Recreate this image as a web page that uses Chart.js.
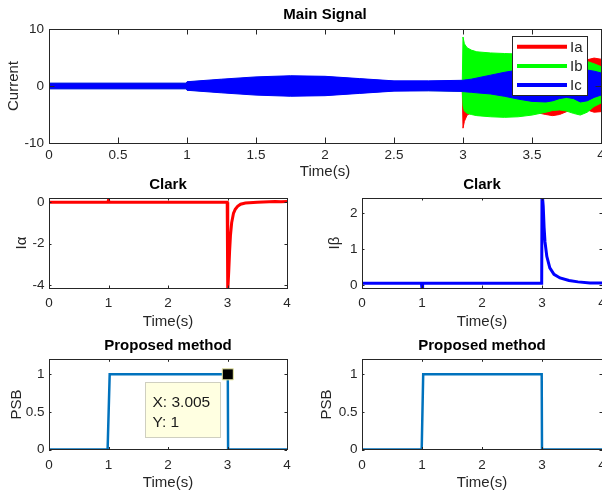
<!DOCTYPE html>
<html>
<head>
<meta charset="utf-8">
<script src="https://cdn.jsdelivr.net/npm/chart.js@4.4.0/dist/chart.umd.min.js"></script>
<style>
html, body { margin: 0; padding: 0; background: #fff; overflow: hidden; }
#fig { position: relative; width: 602px; height: 492px; }
</style>
</head>
<body>
<div id="fig"></div>
<script>
// ---- values ----
var seriesNames = ['Ia', 'Ib', 'Ic']
var seriesColors = ['#ff0000', '#00ff00', '#0000ff']

// envelope (upper / lower edge) of each dense three-phase current
var mainTime = [0, 0.995, 1.0, 1.25, 1.5, 1.75, 2.0, 2.25, 2.5, 2.75, 2.995, 3.0, 3.01, 3.03, 3.06, 3.1, 3.2, 3.3, 3.4, 3.5, 3.6, 3.65, 3.7, 3.75, 3.8, 3.85, 3.9, 3.95, 4.0]
var iaUpper = [0.4, 0.4, 0.65, 1.0, 1.4, 1.6, 1.5, 1.1, 0.75, 0.75, 0.85, 1.0, 1.1, 1.2, 1.3, 1.5, 2.0, 2.5, 2.8, 3.0, 3.2, 3.3, 3.4, 3.6, 3.8, 4.2, 4.6, 4.9, 4.7]
var iaLower = [-0.4, -0.4, -0.65, -1.0, -1.4, -1.6, -1.5, -1.1, -0.75, -0.75, -0.85, -7.4, -6.2, -5.1, -4.7, -4.5, -4.3, -4.1, -4.2, -4.5, -5.0, -5.2, -5.0, -4.5, -4.0, -3.9, -4.2, -4.6, -4.5]
var ibUpper = [0.45, 0.45, 0.7, 1.1, 1.5, 1.7, 1.6, 1.2, 0.8, 0.8, 0.9, 8.6, 7.4, 6.7, 6.3, 6.0, 5.8, 5.7, 5.6, 5.4, 5.2, 5.0, 4.9, 4.8, 4.6, 4.4, 4.3, 3.9, 3.4]
var ibLower = [-0.45, -0.45, -0.7, -1.1, -1.5, -1.7, -1.6, -1.2, -0.8, -0.8, -0.9, -3.5, -4.4, -4.8, -5.0, -5.2, -5.4, -5.5, -5.4, -5.1, -4.6, -4.3, -4.2, -4.4, -4.8, -5.1, -4.6, -3.6, -3.0]
var icUpper = [0.5, 0.5, 0.75, 1.2, 1.6, 1.8, 1.7, 1.3, 0.9, 0.9, 1.0, 1.0, 1.05, 1.1, 1.2, 1.4, 1.9, 2.4, 2.8, 3.1, 3.3, 3.3, 3.3, 3.2, 3.1, 3.0, 2.8, 2.6, 2.3]
var icLower = [-0.5, -0.5, -0.75, -1.2, -1.6, -1.8, -1.7, -1.3, -0.9, -0.85, -0.95, -1.0, -1.0, -1.05, -1.1, -1.2, -1.4, -1.8, -2.3, -2.7, -2.8, -2.6, -2.2, -2.0, -2.2, -2.8, -2.6, -2.0, -1.6]

var clarkAlphaTime = [0, 0.99, 1.0, 1.01, 2.995, 3.0, 3.008, 3.02, 3.035, 3.05, 3.07, 3.1, 3.13, 3.17, 3.22, 3.3, 3.5, 3.7, 3.8, 3.9, 4.0]
var clarkAlpha = [0, 0, 0.1, 0, 0, 0, -4.3, -3.4, -2.4, -1.6, -1.0, -0.55, -0.35, -0.2, -0.1, -0.04, 0, 0.02, 0.03, 0.02, 0.03]
var clarkBetaTime = [0, 0.99, 1.0, 1.01, 2.995, 3.0, 3.02, 3.035, 3.05, 3.08, 3.13, 3.2, 3.3, 3.45, 3.6, 3.8, 4.0]
var clarkBeta = [0.05, 0.05, -0.08, 0.05, 0.05, 2.6, 2.2, 1.6, 1.2, 0.8, 0.48, 0.3, 0.2, 0.13, 0.09, 0.06, 0.06]

var psbTimeLeft = [0, 0.985, 1.02, 3.005, 3.01, 4]
var psbLeft = [0, 0, 1, 1, 0, 0]
var psbTimeRight = [0, 0.995, 1.02, 2.995, 3.0, 4]
var psbRight = [0, 0, 1, 1, 0, 0]

var tipX = [3.005]
var tipY = [1]

// tick labels
var mainXTicks = [0, 0.5, 1, 1.5, 2, 2.5, 3, 3.5, 4]
var mainYTicks = [-10, 0, 10]
var timeTicks = [0, 1, 2, 3, 4]
var alphaTicks = [-4, -2, 0]
var betaTicks = [0, 1, 2]
var psbTicks = [0, 0.5, 1]

var FONT = "'Liberation Sans', Arial, sans-serif"
var AXIS = '#262626'

function points(xs, ys) {
	return xs.map(function (x, i) { return { x: x, y: ys[i] } })
}

function addCanvas(left, top, width, height) {
	const canvas = document.createElement('canvas')
	canvas.width = width
	canvas.height = height
	canvas.style.position = 'absolute'
	canvas.style.left = left + 'px'
	canvas.style.top = top + 'px'
	document.getElementById('fig').appendChild(canvas)
	return canvas.getContext('2d')
}

// MATLAB style box with inward ticks on all four sides
var matlabBox = {
	id: 'matlabBox',
	afterDatasetsDraw: function (chart, args, opts) {
		const ctx = chart.ctx
		const a = chart.chartArea
		const sx = chart.scales.x, sy = chart.scales.y
		const len = opts.tickLength || 3
		ctx.save()
		ctx.strokeStyle = AXIS
		ctx.lineWidth = 1
		ctx.beginPath()
		sx.ticks.forEach(function (t) {
			const px = Math.round(sx.getPixelForValue(t.value)) + 0.5
			ctx.moveTo(px, a.bottom); ctx.lineTo(px, a.bottom - len)
			ctx.moveTo(px, a.top); ctx.lineTo(px, a.top + len)
		})
		sy.ticks.forEach(function (t) {
			const py = Math.round(sy.getPixelForValue(t.value)) + 0.5
			ctx.moveTo(a.left, py); ctx.lineTo(a.left + len, py)
			ctx.moveTo(a.right, py); ctx.lineTo(a.right - len, py)
		})
		ctx.stroke()
		ctx.strokeRect(Math.round(a.left) + 0.5, Math.round(a.top) + 0.5, Math.round(a.right - a.left), Math.round(a.bottom - a.top))
		ctx.restore()
	}
}
Chart.register(matlabBox)

function axesOptions(cfg) {
	return {
		responsive: false,
		animation: false,
		events: [],
		layout: { padding: { left: 0, top: 0, right: cfg.padRight, bottom: 0 } },
		plugins: {
			legend: { display: false },
			tooltip: { enabled: false },
			title: {
				display: true, text: cfg.title, fullSize: false, color: '#000',
				font: { family: FONT, size: 15, weight: 'bold' },
				padding: { top: cfg.titleTop, bottom: cfg.titleBottom }
			},
			matlabBox: { tickLength: cfg.tickLength }
		},
		scales: {
			x: {
				type: 'linear', min: cfg.xTicks[0], max: cfg.xTicks[cfg.xTicks.length - 1],
				grid: { display: false, drawTicks: false }, border: { display: false },
				ticks: {
					color: AXIS, font: { family: FONT, size: 13.5 }, padding: cfg.xTickPad,
					maxRotation: 0, autoSkip: false, callback: function (v) { return String(v) }
				},
				title: { display: true, text: 'Time(s)', color: AXIS, font: { family: FONT, size: 15 }, padding: { top: 0, bottom: cfg.xTitlePad } },
				afterBuildTicks: function (s) { s.ticks = cfg.xTicks.map(function (v) { return { value: v } }) },
				afterFit: function (s) { s.height = cfg.xHeight; s.paddingLeft = 0; s.paddingRight = 0 }
			},
			y: {
				type: 'linear', min: cfg.yMin, max: cfg.yMax,
				grid: { display: false, drawTicks: false }, border: { display: false },
				ticks: {
					color: AXIS, font: { family: FONT, size: 13.5 }, padding: cfg.yTickPad,
					autoSkip: false, callback: function (v) { return String(v) }
				},
				title: { display: true, text: cfg.yTitle, color: AXIS, font: { family: FONT, size: 15 }, padding: { top: cfg.yTitlePad, bottom: 0 } },
				afterBuildTicks: function (s) { s.ticks = cfg.yTicks.map(function (v) { return { value: v } }) },
				afterFit: function (s) { s.width = cfg.yWidth; s.paddingTop = 0; s.paddingBottom = 0 }
			}
		}
	}
}

function lineSet(xs, ys, color, width) {
	return {
		data: points(xs, ys), borderColor: color, backgroundColor: color,
		borderWidth: width, pointRadius: 0, tension: 0, fill: false
	}
}

// ---- Main Signal ----
var mainLegend = {
	id: 'mainLegend',
	afterDraw: function (chart) {
		const ctx = chart.ctx
		const a = chart.chartArea
		const bx = a.right - 89, by = a.top + 7, bw = 75, bh = 59
		ctx.save()
		ctx.fillStyle = '#fff'
		ctx.fillRect(bx, by, bw, bh)
		ctx.strokeStyle = AXIS
		ctx.lineWidth = 1
		ctx.strokeRect(Math.round(bx) + 0.5, Math.round(by) + 0.5, bw, bh)
		ctx.font = '15px ' + FONT
		ctx.textBaseline = 'middle'
		seriesNames.forEach(function (name, i) {
			const y = by + 10.7 + i * 19.2
			ctx.strokeStyle = seriesColors[i]
			ctx.lineWidth = 4
			ctx.beginPath()
			ctx.moveTo(bx + 5, y)
			ctx.lineTo(bx + 55, y)
			ctx.stroke()
			ctx.fillStyle = AXIS
			ctx.fillText(name, bx + 58, y + 1)
		})
		ctx.restore()
	}
}

var envelopes = [[iaUpper, iaLower], [ibUpper, ibLower], [icUpper, icLower]]
var mainSets = []
envelopes.forEach(function (env, i) {
	var up = lineSet(mainTime, env[0], seriesColors[i], 1)
	var low = lineSet(mainTime, env[1], seriesColors[i], 1)
	low.fill = '-1'
	up.order = 3 - i
	low.order = 3 - i
	mainSets.push(up, low)
})

new Chart(addCanvas(0, 0, 602, 182), {
	type: 'line',
	data: { datasets: mainSets },
	options: axesOptions({
		title: 'Main Signal', titleTop: 6, titleBottom: 5, padRight: 1,
		xTicks: mainXTicks, xHeight: 39, xTickPad: 4, xTitlePad: 1,
		yTicks: mainYTicks, yMin: -10, yMax: 10, yTitle: 'Current', yWidth: 49, yTickPad: 5, yTitlePad: 5,
		tickLength: 5.5
	}),
	plugins: [mainLegend]
})

// ---- Clark ----
new Chart(addCanvas(0, 170, 300, 165), {
	type: 'line',
	data: { datasets: [lineSet(clarkAlphaTime, clarkAlpha, '#ff0000', 3)] },
	options: axesOptions({
		title: 'Clark', titleTop: 6, titleBottom: 4, padRight: 13,
		xTicks: timeTicks, xHeight: 47, xTickPad: 7.5, xTitlePad: 4,
		yTicks: alphaTicks, yMin: -4.15, yMax: 0.2, yTitle: 'Iα', yWidth: 49, yTickPad: 4.5, yTitlePad: 12.7,
		tickLength: 2.5
	})
})

new Chart(addCanvas(300, 170, 302, 165), {
	type: 'line',
	data: { datasets: [lineSet(clarkBetaTime, clarkBeta, '#0000ff', 3)] },
	options: axesOptions({
		title: 'Clark', titleTop: 6, titleBottom: 4, padRight: 0,
		xTicks: timeTicks, xHeight: 47, xTickPad: 7.5, xTitlePad: 4,
		yTicks: betaTicks, yMin: -0.08, yMax: 2.42, yTitle: 'Iβ', yWidth: 62, yTickPad: 4.5, yTitlePad: 26,
		tickLength: 2.5
	})
})

// ---- Proposed method ----
var dataTip = {
	id: 'dataTip',
	afterDraw: function (chart) {
		const ctx = chart.ctx
		const px = chart.scales.x.getPixelForValue(tipX[0])
		const py = chart.scales.y.getPixelForValue(tipY[0])
		const bx = Math.round(px - 83) + 0.5, by = Math.round(py + 8) + 0.5
		ctx.save()
		ctx.fillStyle = '#ffffe1'
		ctx.fillRect(bx, by, 75, 55)
		ctx.strokeStyle = '#cfcfc0'
		ctx.lineWidth = 1
		ctx.strokeRect(bx, by, 75, 55)
		ctx.fillStyle = '#1a1a1a'
		ctx.font = '15.5px ' + FONT
		ctx.textBaseline = 'middle'
		ctx.fillText('X: ' + tipX[0], bx + 7, by + 20)
		ctx.fillText('Y: ' + tipY[0], bx + 7, by + 40)
		ctx.restore()
	}
}

var psbLeftSets = [
	{
		type: 'scatter', data: points(tipX, tipY), pointStyle: 'rect', pointRadius: 7.8,
		backgroundColor: '#000', borderColor: '#e8e8a0', borderWidth: 1, order: 0
	},
	lineSet(psbTimeLeft, psbLeft, '#0072bd', 2.5)
]
psbLeftSets[1].order = 1

new Chart(addCanvas(0, 330, 300, 162), {
	type: 'line',
	data: { datasets: psbLeftSets },
	options: axesOptions({
		title: 'Proposed method', titleTop: 7, titleBottom: 4.3, padRight: 13,
		xTicks: timeTicks, xHeight: 42.5, xTickPad: 7.4, xTitlePad: 0,
		yTicks: psbTicks, yMin: 0, yMax: 1.2, yTitle: 'PSB', yWidth: 49, yTickPad: 4.5, yTitlePad: 7.7,
		tickLength: 2.5
	}),
	plugins: [dataTip]
})

new Chart(addCanvas(300, 330, 302, 162), {
	type: 'line',
	data: { datasets: [lineSet(psbTimeRight, psbRight, '#0072bd', 2.5)] },
	options: axesOptions({
		title: 'Proposed method', titleTop: 7, titleBottom: 4.3, padRight: 0,
		xTicks: timeTicks, xHeight: 42.5, xTickPad: 7.4, xTitlePad: 0,
		yTicks: psbTicks, yMin: 0, yMax: 1.2, yTitle: 'PSB', yWidth: 62, yTickPad: 4.5, yTitlePad: 17.7,
		tickLength: 2.5
	})
})
</script>
</body>
</html>
